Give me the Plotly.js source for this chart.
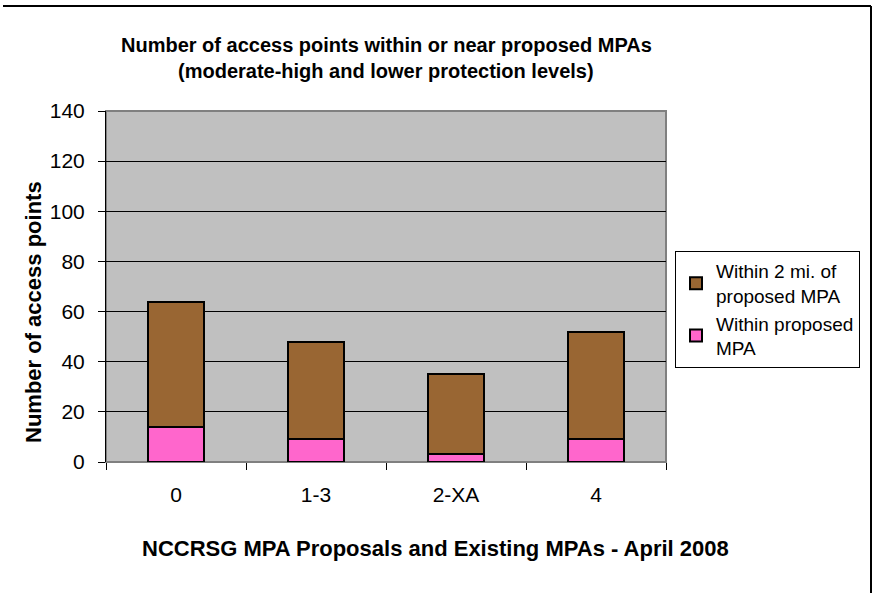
<!DOCTYPE html>
<html>
<head>
<meta charset="utf-8">
<script src="https://cdn.plot.ly/plotly-3.0.1.min.js"></script>
<style>
  html, body { margin: 0; padding: 0; background: #fff; }
  #chart { width: 876px; height: 593px; }
</style>
</head>
<body>
<div id="chart"></div>
<script>
// Proposal categories along the x axis
const categories = ['0', '1-3', '2-XA', '4'];

// Access points inside the proposed MPA
const withinMPA = [14, 9, 3, 9];
// Additional access points within 2 miles of the proposed MPA
const within2mi = [50, 39, 32, 43];

const seriesNames = ['Within proposed<br>MPA', 'Within 2 mi. of<br>proposed MPA'];
const yTicks = [0, 20, 40, 60, 80, 100, 120, 140];

const FONT = '"Liberation Sans", Arial, sans-serif';

// plot area in pixels: x 106..666, y 111..462
const W = 876, H = 593;
const L = 106, R = 666, T = 111, B = 462;
const px = x => (x - L) / (R - L);
const py = y => (B - y) / (B - T);

const traces = [
  {
    type: 'bar', name: seriesNames[0], x: categories, y: withinMPA,
    marker: { color: '#FF66CC', line: { color: '#000', width: 2 } }
  },
  {
    type: 'bar', name: seriesNames[1], x: categories, y: within2mi,
    marker: { color: '#996633', line: { color: '#000', width: 2 } }
  }
];

const layout = {
  width: W, height: H,
  margin: { l: L, r: W - R, t: T, b: H - B, pad: 0, autoexpand: false },
  paper_bgcolor: '#ffffff',
  plot_bgcolor: '#C0C0C0',
  barmode: 'stack',
  bargap: 0.6,
  showlegend: true,
  font: { family: FONT, color: '#000' },
  annotations: [
    {
      text: '<b>Number of access points within or near proposed MPAs</b>',
      showarrow: false, xref: 'paper', yref: 'paper',
      x: px(386), y: py(45), xanchor: 'center', yanchor: 'middle',
      font: { family: FONT, size: 20, color: '#000' }
    },
    {
      text: '<b>(moderate-high and lower protection levels)</b>',
      showarrow: false, xref: 'paper', yref: 'paper',
      x: px(386), y: py(71), xanchor: 'center', yanchor: 'middle',
      font: { family: FONT, size: 20, color: '#000' }
    },
    {
      text: '<b>Number of access points</b>',
      textangle: -90, showarrow: false,
      xref: 'paper', yref: 'paper',
      x: px(33), y: py(312), xanchor: 'center', yanchor: 'middle',
      font: { family: FONT, size: 22, color: '#000' }
    },
    {
      text: '<b>NCCRSG MPA Proposals and Existing MPAs - April 2008</b>',
      showarrow: false,
      xref: 'paper', yref: 'paper',
      x: px(435), y: py(548), xanchor: 'center', yanchor: 'middle',
      font: { family: FONT, size: 22, color: '#000' }
    }
  ],
  xaxis: {
    type: 'category', range: [-0.5, 3.5],
    showgrid: false, zeroline: false,
    showline: true, linecolor: '#808080', linewidth: 1,
    ticks: 'outside', tickson: 'boundaries', ticklen: 7, tickcolor: '#000', tickwidth: 1,
    tickfont: { family: FONT, size: 21, color: '#000' },
    ticklabelstandoff: 14,
    automargin: false,
    fixedrange: true
  },
  yaxis: {
    range: [0, 140], tickvals: yTicks, ticktext: yTicks.map(String),
    showgrid: true, gridcolor: '#000', gridwidth: 1,
    zeroline: false,
    showline: true, linecolor: '#000', linewidth: 1,
    ticks: 'outside', ticklen: 7, tickcolor: '#000', tickwidth: 1,
    tickfont: { family: FONT, size: 21, color: '#000' },
    ticklabelstandoff: 9,
    automargin: false,
    fixedrange: true
  },
  legend: {
    xref: 'container', yref: 'container',
    x: 675 / W, y: 1 - 251 / H, xanchor: 'left', yanchor: 'top',
    bgcolor: '#ffffff', bordercolor: '#000', borderwidth: 1,
    font: { family: FONT, size: 19, color: '#000' },
    traceorder: 'reversed', itemwidth: 30
  },
  shapes: [
    // gray frame of the plot area
    { type: 'rect', xref: 'paper', yref: 'paper', x0: 0, x1: 1, y0: 0, y1: 1,
      line: { color: '#808080', width: 2 }, layer: 'below' },
    // outer chart frame (top and right edges)
    { type: 'line', xref: 'paper', yref: 'paper', x0: px(3), x1: px(871), y0: py(6), y1: py(6),
      line: { color: '#000', width: 2 } },
    { type: 'line', xref: 'paper', yref: 'paper', x0: px(871), x1: px(871), y0: py(6), y1: py(600),
      line: { color: '#000', width: 2 } }
  ]
};

Plotly.newPlot('chart', traces, layout, { displayModeBar: false, staticPlot: true });
</script>
</body>
</html>
